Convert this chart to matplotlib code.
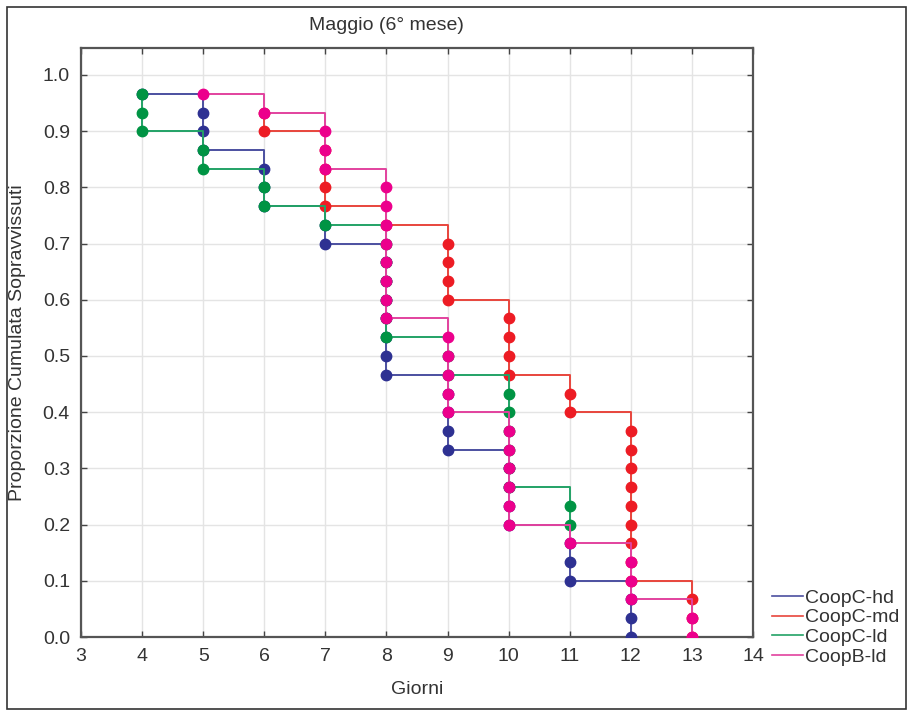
import matplotlib
matplotlib.use('Agg')
import matplotlib.pyplot as plt
from matplotlib.lines import Line2D
from matplotlib.patches import Rectangle

plt.rcParams['font.family'] = ['Liberation Sans', 'DejaVu Sans']

# survival points (one dot per event)
hd_days = [4, 5, 5, 5, 6, 6, 6, 7, 7, 8, 8, 8, 8, 8, 8, 8,
           9, 9, 9, 9, 10, 10, 10, 10, 11, 11, 11, 12, 12, 12]
hd_surv = [0.967, 0.933, 0.900, 0.867, 0.833, 0.800, 0.767, 0.733, 0.700,
           0.667, 0.633, 0.600, 0.567, 0.533, 0.500, 0.467,
           0.433, 0.400, 0.367, 0.333, 0.300, 0.267, 0.233, 0.200,
           0.167, 0.133, 0.100, 0.067, 0.033, 0.000]

md_days = [6, 6, 7, 7, 7, 7, 8, 9, 9, 9, 9, 10, 10, 10, 10, 11, 11,
           12, 12, 12, 12, 12, 12, 12, 12, 12, 13, 13, 13]
md_surv = [0.933, 0.900, 0.867, 0.833, 0.800, 0.767, 0.733,
           0.700, 0.667, 0.633, 0.600, 0.567, 0.533, 0.500, 0.467,
           0.433, 0.400, 0.367, 0.333, 0.300, 0.267, 0.233, 0.200,
           0.167, 0.133, 0.100, 0.067, 0.033, 0.000]

ld_days = [4, 4, 4, 5, 5, 6, 6, 7, 8, 8, 8, 8, 8, 8, 9, 9,
           10, 10, 10, 10, 10, 10, 11, 11]
ld_surv = [0.967, 0.933, 0.900, 0.867, 0.833, 0.800, 0.767, 0.733,
           0.700, 0.667, 0.633, 0.600, 0.567, 0.533, 0.500, 0.467,
           0.433, 0.400, 0.367, 0.333, 0.300, 0.267, 0.233, 0.200]

bld_days = [5, 6, 7, 7, 7, 8, 8, 8, 8, 8, 8, 8, 8, 9, 9, 9, 9, 9,
            10, 10, 10, 10, 10, 10, 11, 12, 12, 12, 13, 13]
bld_surv = [0.967, 0.933, 0.900, 0.867, 0.833, 0.800, 0.767, 0.733,
            0.700, 0.667, 0.633, 0.600, 0.567, 0.533, 0.500, 0.467,
            0.433, 0.400, 0.367, 0.333, 0.300, 0.267, 0.233, 0.200,
            0.167, 0.133, 0.100, 0.067, 0.033, 0.000]

labels = ['CoopC-hd', 'CoopC-md', 'CoopC-ld', 'CoopB-ld']
line_colors = ['#4b4fa0', '#e8453c', '#22a266', '#e2429e']
dot_colors = ['#2e3192', '#ed1c24', '#009444', '#ec008c']
series = [(hd_days, hd_surv), (md_days, md_surv),
          (ld_days, ld_surv), (bld_days, bld_surv)]

text_col = '#333333'

fig = plt.figure(figsize=(9.08, 7.12), dpi=100)
ax = fig.add_axes([81 / 908, 1 - 637 / 712, (753 - 81) / 908, (637 - 48) / 712])

for (d, s), lc, dc in zip(series, line_colors, dot_colors):
    ax.step(d, s, where='post', color=lc, lw=1.4, marker='o', markersize=7.5,
            markerfacecolor=dc, markeredgecolor=dc, zorder=3)

ax.set_xlim(3, 14)
ax.set_ylim(0, 1.048)
ax.set_xticks(range(3, 15))
ax.set_yticks([i / 10 for i in range(11)])
ax.set_yticklabels(['%.1f' % (i / 10) for i in range(11)])
ax.grid(True, color='#e4e4e4', lw=1.0, zorder=0)
ax.tick_params(direction='in', length=4, width=1, colors='#444444',
               top=True, right=True, labelsize=14, labelcolor=text_col, pad=8)
for sp in ax.spines.values():
    sp.set_color('#555555')
    sp.set_linewidth(1.6)

fig.text(386 / 908, 1 - 26 / 712, 'Maggio (6° mese)', ha='center', va='center',
         fontsize=14, color=text_col)
fig.text(417 / 908, 1 - 690 / 712, 'Giorni', ha='center', va='center',
         fontsize=14, color=text_col)
fig.text(18 / 908, 1 - 343 / 712, 'Proporzione Cumulata Sopravvissuti',
         rotation=90, ha='center', va='center', fontsize=14, color=text_col)

handles = [Line2D([], [], color=c, lw=1.2) for c in line_colors]
fig.legend(handles, labels, loc='upper left', bbox_to_anchor=(772 / 908, 1 - 589 / 712),
           frameon=False, fontsize=14, handlelength=1.6, handletextpad=0.1,
           labelspacing=0.11, borderpad=0, borderaxespad=0, labelcolor=text_col)

fig.patches.append(Rectangle((7 / 908, 3 / 712), 899 / 908, 702 / 712,
                             transform=fig.transFigure, fill=False,
                             edgecolor='#333333', lw=1.2))

fig.savefig('out.png', dpi=100)
